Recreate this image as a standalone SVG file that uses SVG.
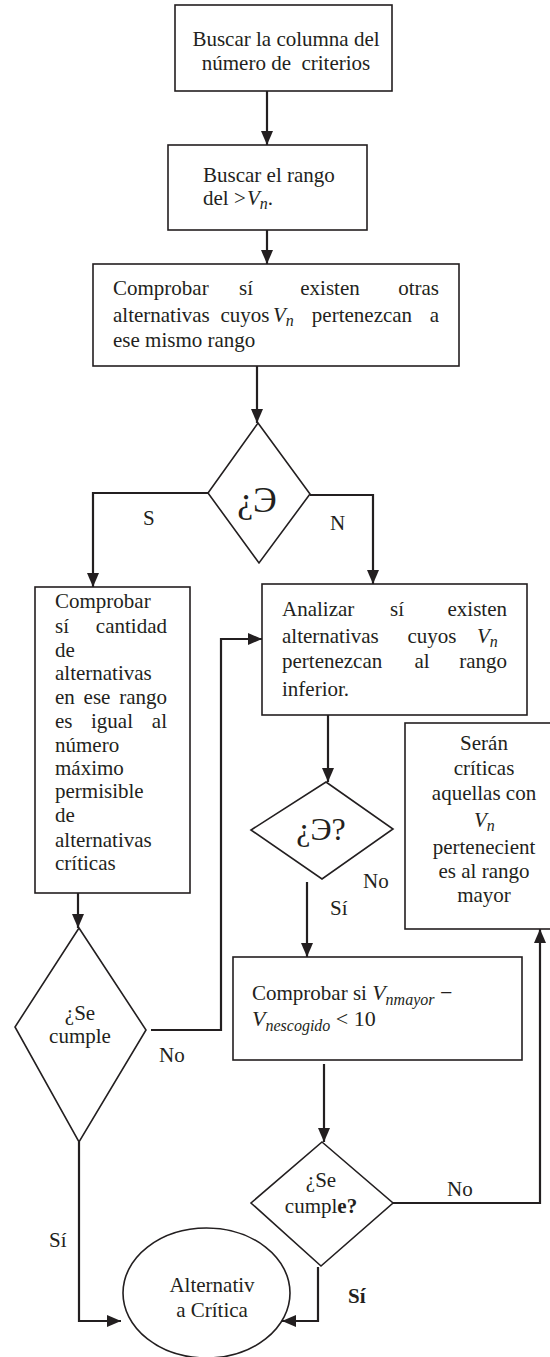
<svg xmlns="http://www.w3.org/2000/svg" width="550" height="1357" viewBox="0 0 550 1357">
<defs>
<marker id="arr" viewBox="0 0 14 12" refX="14" refY="6" markerWidth="14" markerHeight="12" markerUnits="userSpaceOnUse" orient="auto">
<path d="M0,0 L14,6 L0,12 z" fill="#231f20"/>
</marker>
<style>
.box{fill:#fff;stroke:#231f20;stroke-width:1.6}
.c{fill:none;stroke:#231f20;stroke-width:2.2}
.ca{fill:none;stroke:#231f20;stroke-width:2.2;marker-end:url(#arr)}
text{font-family:"Liberation Serif","Times New Roman",serif;font-size:21px;fill:#231f20}
.m{text-anchor:middle}
.e{text-anchor:end}
.i{font-style:italic}
.sub{font-style:italic;font-size:16px}
.b{font-weight:bold}
</style>
</defs>
<rect width="550" height="1357" fill="#fff"/>

<g id="connectors">
<line class="ca" x1="267" y1="91" x2="267" y2="145"/>
<line class="ca" x1="267" y1="230" x2="267" y2="264"/>
<line class="ca" x1="257" y1="366" x2="257" y2="423"/>
<polyline class="ca" points="208,493 93,493 93,587"/>
<polyline class="ca" points="310,495 373,495 373,584"/>
<line class="ca" x1="78" y1="893" x2="78" y2="928"/>
<polyline class="ca" points="151,1030 221,1030 221,639 262,639"/>
<line class="ca" x1="328" y1="715" x2="328" y2="782"/>
<line class="ca" x1="307" y1="882" x2="307" y2="957"/>
<line class="ca" x1="324" y1="1064" x2="324" y2="1142"/>
<polyline class="ca" points="393,1203 540,1203 540,929"/>
<polyline class="ca" points="79,1142 79,1321 121,1321"/>
<polyline class="ca" points="318,1267 318,1321 282,1321"/>
</g>

<g id="labels">
<text x="143" y="525">S</text>
<text x="330" y="530">N</text>
<text x="159" y="1062">No</text>
<text x="363" y="888">No</text>
<text x="330" y="915">Sí</text>
<text x="447" y="1196">No</text>
<text x="49" y="1247">Sí</text>
<text x="348" y="1303" class="b">Sí</text>
</g>

<g id="n1">
<rect class="box" x="175" y="5" width="217" height="86"/>
<text x="286" y="46" class="m">Buscar la columna del</text>
<text x="286" y="70" class="m" xml:space="preserve">número de  criterios</text>
</g>

<g id="n2">
<rect class="box" x="168" y="145" width="199" height="85"/>
<text x="203" y="182">Buscar el rango</text>
<text x="203" y="205">del &gt;</text>
<text x="247" y="205"><tspan class="i">V</tspan><tspan class="sub" dy="4">n</tspan><tspan dy="-4">.</tspan></text>
</g>

<g id="n3">
<rect class="box" x="93" y="264" width="366" height="102"/>
<text x="113" y="295">Comprobar</text>
<text x="246" y="295" class="m">sí</text>
<text x="330" y="295" class="m">existen</text>
<text x="439" y="295" class="e">otras</text>
<text x="113" y="322">alternativas</text>
<text x="245" y="322" class="m">cuyos</text>
<text x="273" y="322"><tspan class="i">V</tspan><tspan class="sub" dy="4">n</tspan></text>
<text x="362" y="322" class="m">pertenezcan</text>
<text x="439" y="322" class="e">a</text>
<text x="113" y="347">ese mismo rango</text>
</g>

<g id="d1">
<polygon class="box" points="258,423 310,494 259,563 208,493"/>
<text x="257" y="512" class="m" style="font-size:36px">¿Э</text>
</g>

<g id="n4">
<rect class="box" x="35" y="587" width="155" height="306"/>
<text x="55" y="608">Comprobar</text>
<text x="55" y="633">sí</text>
<text x="167" y="633" class="e">cantidad</text>
<text x="55" y="657">de</text>
<text x="55" y="680">alternativas</text>
<text x="55" y="704">en</text>
<text x="97" y="704" class="m">ese</text>
<text x="167" y="704" class="e">rango</text>
<text x="55" y="728">es</text>
<text x="112" y="728" class="m">igual</text>
<text x="167" y="728" class="e">al</text>
<text x="55" y="752">número</text>
<text x="55" y="775">máximo</text>
<text x="55" y="798">permisible</text>
<text x="55" y="822">de</text>
<text x="55" y="847">alternativas</text>
<text x="55" y="870">críticas</text>
</g>

<g id="n5">
<rect class="box" x="262" y="584" width="265" height="131"/>
<text x="282" y="616">Analizar</text>
<text x="397" y="616" class="m">sí</text>
<text x="507" y="616" class="e">existen</text>
<text x="282" y="643">alternativas</text>
<text x="432" y="643" class="m">cuyos</text>
<text x="477" y="643"><tspan class="i">V</tspan><tspan class="sub" dy="4">n</tspan></text>
<text x="282" y="668">pertenezcan</text>
<text x="422" y="668" class="m">al</text>
<text x="507" y="668" class="e">rango</text>
<text x="282" y="696">inferior.</text>
</g>

<g id="n6">
<rect class="box" x="405" y="723" width="160" height="206"/>
<text x="484" y="750" class="m">Serán</text>
<text x="484" y="775" class="m">críticas</text>
<text x="484" y="800" class="m">aquellas con</text>
<text x="474" y="827"><tspan class="i">V</tspan><tspan class="sub" dy="4">n</tspan></text>
<text x="484" y="854" class="m">pertenecient</text>
<text x="484" y="878" class="m">es al rango</text>
<text x="484" y="902" class="m">mayor</text>
</g>

<g id="d3">
<polygon class="box" points="326,782 393,829 322,879 251,830"/>
<text x="321" y="840" class="m" style="font-size:32px">¿Э?</text>
</g>

<g id="d2">
<polygon class="box" points="79,928 146,1030 79,1142 15,1027"/>
<text x="80" y="1020" class="m">¿Se</text>
<text x="80" y="1043" class="m">cumple</text>
</g>

<g id="n7">
<rect class="box" x="233" y="957" width="289" height="103"/>
<text x="252" y="1000">Comprobar si <tspan class="i" font-size="22">V</tspan><tspan class="sub" dy="5">nmayor</tspan><tspan dy="-5" font-size="22"> −</tspan></text>
<text x="252" y="1026"><tspan class="i" font-size="22">V</tspan><tspan class="sub" dy="5">nescogido</tspan><tspan dy="-5" font-size="22"> &lt; 10</tspan></text>
</g>

<g id="d4">
<polygon class="box" points="322,1142 393,1203 321,1266 251,1203"/>
<text x="321" y="1187" class="m">¿Se</text>
<text x="321" y="1213" class="m">cumpl<tspan class="b">e?</tspan></text>
</g>

<g id="n8">
<ellipse class="box" cx="206.5" cy="1293" rx="83.5" ry="65"/>
<text x="212" y="1292" class="m">Alternativ</text>
<text x="212" y="1317" class="m">a Crítica</text>
</g>
</svg>
